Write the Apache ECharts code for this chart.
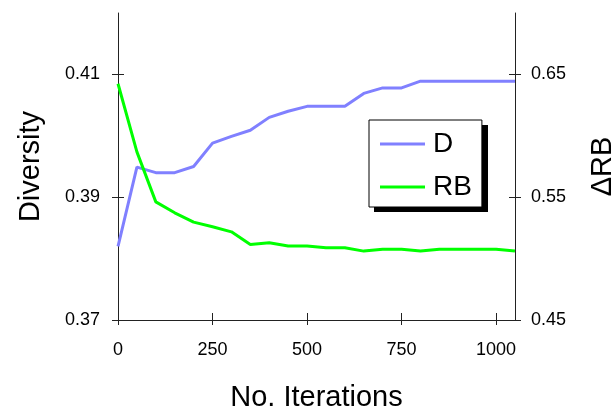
<!DOCTYPE html>
<html>
<head>
<meta charset="utf-8">
<script src="https://cdn.jsdelivr.net/npm/echarts@6/dist/echarts.min.js"></script>
<style>
html,body{margin:0;padding:0;background:#fff;}
#chart{width:616px;height:406px;}
</style>
</head>
<body>
<div id="chart"></div>
<script>
// iterations on the x axis
var iterations = [0, 50, 100, 150, 200, 250, 300, 350, 400, 450, 500, 550, 600, 650, 700, 750, 800, 850, 900, 950, 1000, 1050];
// Diversity (left axis)
var diversity = [0.3820, 0.3949, 0.3940, 0.3940, 0.3950, 0.3988, 0.3999, 0.4009, 0.4030, 0.4040, 0.4048,
	0.4048, 0.4048, 0.4069, 0.4078, 0.4078, 0.4089, 0.4089, 0.4089, 0.4089, 0.4089, 0.4089];
// delta RB (right axis)
var deltaRB = [0.6424, 0.5869, 0.5462, 0.5373, 0.5297, 0.5259, 0.5218, 0.5115, 0.5129, 0.5102, 0.5102,
	0.5088, 0.5088, 0.5061, 0.5077, 0.5077, 0.5061, 0.5077, 0.5077, 0.5077, 0.5077, 0.5061];
var xTicks = [0, 250, 500, 750, 1000];
var leftTicks = [0.37, 0.39, 0.41];
var rightTicks = [0.45, 0.55, 0.65];

var font = "'Liberation Sans', Arial, sans-serif";
var eChart = echarts.init(document.getElementById('chart'));

function pairs(xs, ys){
	var out = [];
	for(var i=0;i<xs.length;i++){
		out.push([xs[i], ys[i]]);
	}
	return out;
}

var gridBox = {left:118, right:101, top:13, bottom:86, outerBoundsMode:'none', containLabel:false};
var axisLine = {show:true, lineStyle:{color:'#222', width:1}};
// legend box (shadow drawn as a plain rect behind it)
var legendBox = {x:369, y:120, w:114, h:87};

var option = {
	animation:false,
	grid:[gridBox, gridBox],
	graphic:[{
		type:'rect', z:-1,
		shape:{x:legendBox.x+5, y:legendBox.y+5, width:legendBox.w, height:legendBox.h},
		style:{fill:'#000'}
	}],
	legend:{
		orient:'vertical',
		left:legendBox.x, top:legendBox.y,
		padding:[10, 10, 6, 11],
		icon:'rect',
		itemWidth:45, itemHeight:3, itemGap:15,
		backgroundColor:'#fff',
		borderColor:'#000', borderWidth:1,
		textStyle:{fontFamily:font, fontSize:28, color:'#000', padding:[0,0,0,3]},
		data:['D', 'RB']
	},
	xAxis:[
		{
			gridIndex:0, type:'value', min:0, max:1050,
			axisLine:axisLine,
			axisTick:{show:true, inside:false, length:5, customValues:xTicks, lineStyle:{color:'#222'}},
			axisLabel:{customValues:xTicks, formatter:function(v){return String(v);}, fontFamily:font, fontSize:18, color:'#000', margin:21},
			splitLine:{show:false},
			name:'No. Iterations', nameLocation:'middle', nameGap:63,
			nameTextStyle:{fontFamily:font, fontSize:29, color:'#000'}
		},
		{
			gridIndex:1, type:'value', min:0, max:1050,
			axisLine:{show:false},
			axisTick:{show:true, inside:true, length:7, customValues:xTicks, lineStyle:{color:'#222'}},
			axisLabel:{show:false},
			splitLine:{show:false}
		}
	],
	yAxis:[
		{
			gridIndex:0, type:'value', position:'left', min:0.37, max:0.42,
			axisLine:axisLine,
			axisTick:{show:true, inside:false, length:6, customValues:leftTicks, lineStyle:{color:'#222'}},
			axisLabel:{customValues:leftTicks, fontFamily:font, fontSize:18, color:'#000', margin:18},
			splitLine:{show:false},
			name:'Diversity', nameLocation:'middle', nameGap:73, nameRotate:90,
			nameTextStyle:{fontFamily:font, fontSize:29, color:'#000'}
		},
		{
			gridIndex:0, type:'value', position:'right', min:0.45, max:0.70,
			axisLine:axisLine,
			axisTick:{show:true, inside:false, length:6, customValues:rightTicks, lineStyle:{color:'#222'}},
			axisLabel:{customValues:rightTicks, fontFamily:font, fontSize:18, color:'#000', margin:16},
			splitLine:{show:false},
			name:'\u0394RB', nameLocation:'middle', nameGap:73, nameRotate:90,
			nameTextStyle:{fontFamily:font, fontSize:29, color:'#000'}
		},
		{
			gridIndex:1, type:'value', position:'left', min:0.37, max:0.42,
			axisLine:{show:false},
			axisTick:{show:true, inside:true, length:6, customValues:leftTicks, lineStyle:{color:'#222'}},
			axisLabel:{show:false},
			splitLine:{show:false}
		},
		{
			gridIndex:1, type:'value', position:'right', min:0.45, max:0.70,
			axisLine:{show:false},
			axisTick:{show:true, inside:true, length:6, customValues:rightTicks, lineStyle:{color:'#222'}},
			axisLabel:{show:false},
			splitLine:{show:false}
		}
	],
	series:[
		{
			name:'D', type:'line', xAxisIndex:0, yAxisIndex:0,
			data:pairs(iterations, diversity),
			symbol:'none', showSymbol:false,
			lineStyle:{color:'#8080ff', width:3},
			itemStyle:{color:'#8080ff'}
		},
		{
			name:'RB', type:'line', xAxisIndex:0, yAxisIndex:1,
			data:pairs(iterations, deltaRB),
			symbol:'none', showSymbol:false,
			lineStyle:{color:'#00ff00', width:3},
			itemStyle:{color:'#00ff00'}
		}
	]
};

eChart.setOption(option);
</script>
</body>
</html>
